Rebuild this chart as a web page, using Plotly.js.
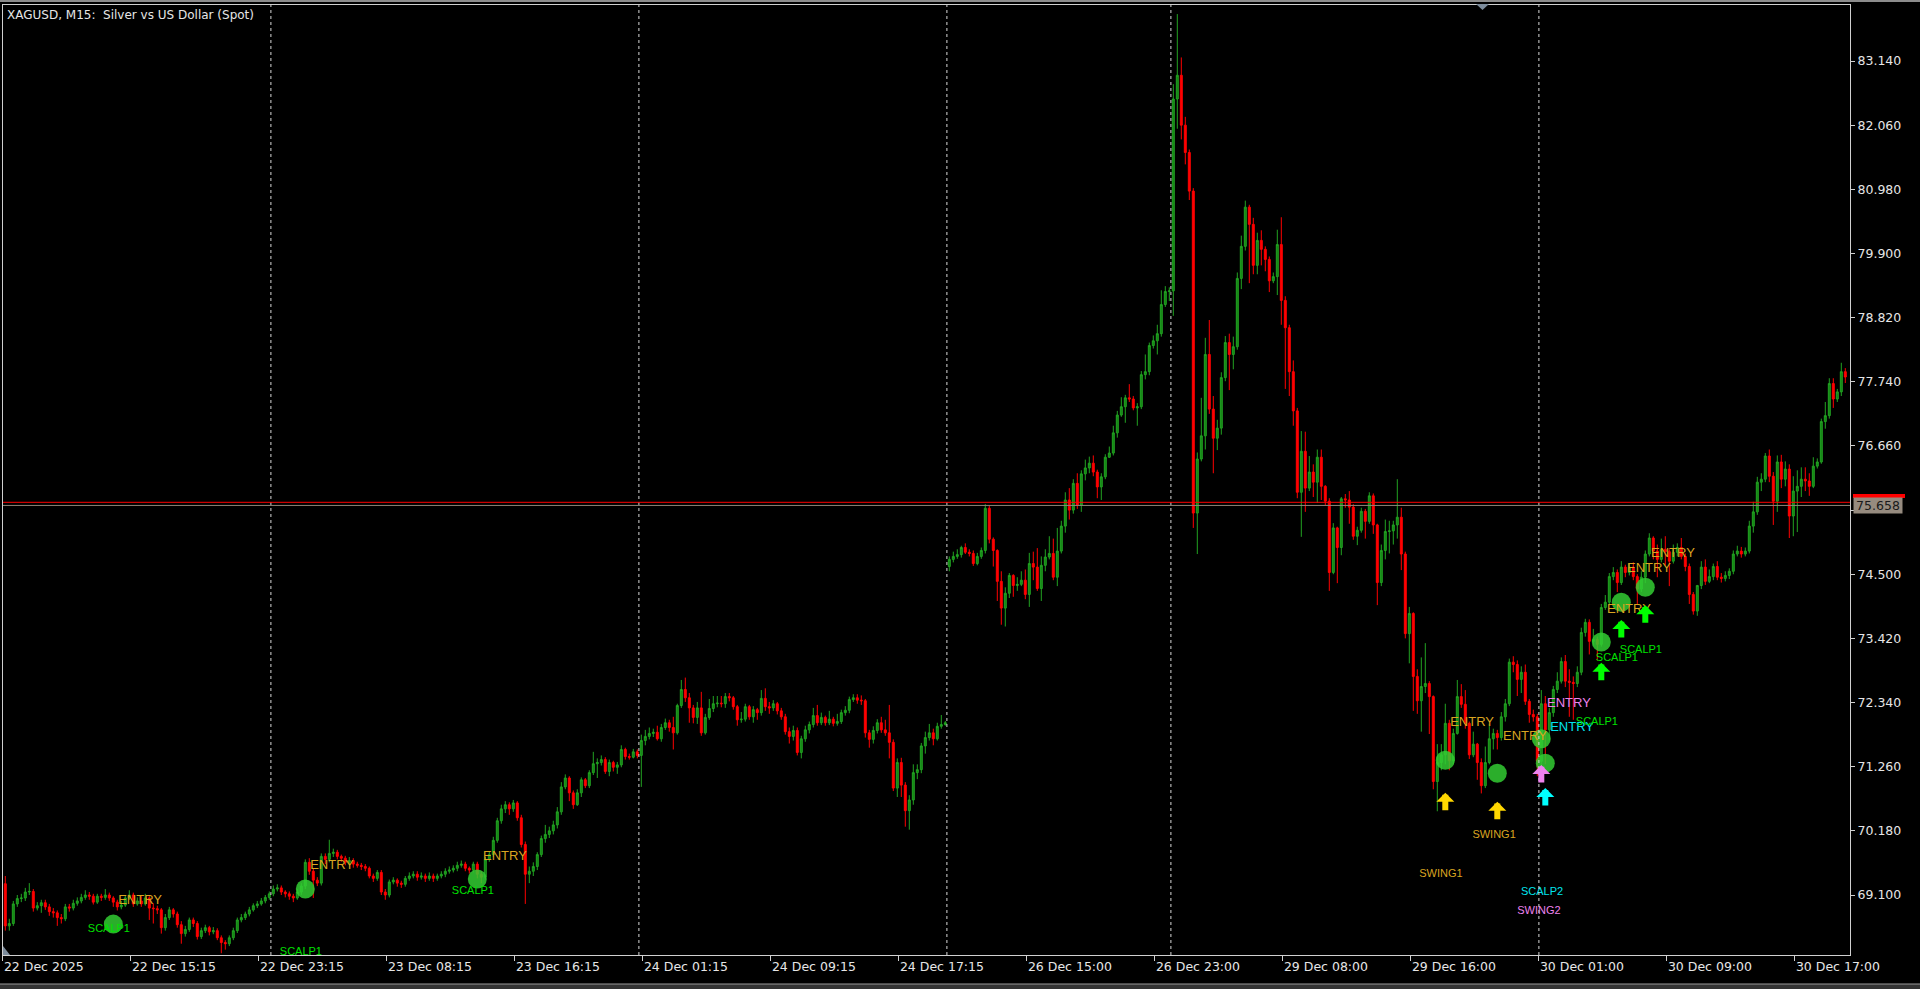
<!DOCTYPE html>
<html><head><meta charset="utf-8">
<script src="https://cdn.plot.ly/plotly-3.0.1.min.js"></script>
<style>html,body{margin:0;padding:0;background:#000;overflow:hidden}#chart{width:1920px;height:989px}</style>
</head><body><div id="chart"></div>
<script>
// ---------- DATA (XAGUSD M15) ----------
const barOpen = [
69.29,68.58,68.62,68.95,69.04,69.05,69.15,69.16,68.88,68.92,
68.97,68.90,68.82,68.80,68.72,68.70,68.90,68.88,68.96,69.00,
69.06,69.10,69.08,68.98,69.08,69.06,69.10,69.05,68.98,68.90,
68.93,69.05,69.10,68.95,69.00,68.95,69.05,68.88,68.87,68.85,
68.55,68.72,68.85,68.78,68.60,68.45,68.52,68.68,68.62,68.40,
68.50,68.55,68.48,68.50,68.38,68.30,68.28,68.38,68.50,68.68,
68.72,68.78,68.85,68.92,68.95,69.00,69.06,69.12,69.20,69.22,
69.15,69.12,69.08,69.05,69.15,69.25,69.65,69.50,69.35,69.30,
69.75,69.70,69.80,69.82,69.75,69.72,69.65,69.68,69.62,69.60,
69.58,69.55,69.42,69.38,69.48,69.15,69.10,69.32,69.35,69.30,
69.28,69.38,69.42,69.45,69.40,69.42,69.38,69.42,69.38,69.42,
69.45,69.50,69.52,69.55,69.60,69.62,69.55,69.52,69.62,69.45,
69.40,69.70,69.78,70.02,70.35,70.55,70.62,70.55,70.65,70.40,
69.95,69.45,69.50,69.58,69.78,70.05,70.12,70.18,70.28,70.50,
70.92,71.07,70.82,70.62,70.82,71.04,70.94,71.16,71.31,71.33,
71.38,71.18,71.33,71.25,71.29,71.55,71.43,71.42,71.51,71.45,
71.70,71.77,71.82,71.84,71.73,71.92,72.00,71.92,71.83,72.29,
72.56,72.42,72.25,72.09,72.25,71.83,72.09,72.24,72.32,72.33,
72.32,72.44,72.42,72.27,72.05,72.06,72.27,72.10,72.22,72.17,
72.41,72.27,72.25,72.32,72.20,72.10,71.85,71.77,71.87,71.50,
71.73,71.88,71.97,72.12,72.00,72.09,72.00,72.06,71.99,72.02,
72.17,72.21,72.39,72.42,72.38,72.37,71.83,71.72,71.87,72.00,
71.88,71.83,71.67,70.90,71.33,70.95,70.52,70.70,71.16,71.21,
71.61,71.75,71.83,71.73,71.94,71.97,
74.63,74.75,74.80,74.83,
74.95,74.87,74.85,74.68,74.80,74.90,75.61,75.09,74.90,74.38,
73.93,74.18,74.48,74.31,74.33,74.40,74.16,74.68,74.62,74.26,
74.65,74.79,74.85,74.45,74.89,75.31,75.75,75.58,76.03,75.66,
76.19,76.29,76.37,76.22,75.97,76.14,76.47,76.54,76.88,77.18,
77.32,77.47,77.45,77.30,77.32,77.86,77.91,78.35,78.43,78.55,
79.04,79.26,79.27,82.50,82.90,82.06,81.60,80.95,75.53,76.44,
76.83,78.20,77.28,76.79,76.96,77.81,78.40,78.20,78.33,79.48,
80.02,80.68,80.39,79.70,80.12,79.97,79.80,79.44,79.51,80.05,
79.11,78.65,77.91,77.25,75.88,76.57,75.95,76.22,76.05,76.47,
75.98,75.73,74.53,75.28,74.95,75.77,75.75,75.63,75.14,75.24,
75.56,75.39,75.82,75.33,74.36,74.90,75.22,75.23,75.33,75.46,
74.84,73.50,73.84,72.78,72.37,72.61,72.66,72.44,71.01,71.33,
71.46,71.99,71.36,71.82,72.44,72.31,71.99,71.46,71.64,71.33,
70.94,71.33,71.73,71.82,71.75,72.10,72.32,73.02,72.98,72.73,
72.85,72.36,72.14,72.10,71.35,72.32,71.88,72.17,72.56,72.70,
73.03,72.70,72.68,72.66,72.85,73.52,73.69,73.37,73.40,73.32,
73.94,74.03,74.46,74.53,74.36,74.62,74.53,74.62,74.46,74.25,
74.45,74.84,75.11,74.89,74.75,74.92,74.88,74.72,74.87,74.95,
74.80,74.63,74.16,73.88,74.31,74.62,74.38,74.46,74.63,74.45,
74.43,74.48,74.55,74.84,74.89,74.84,74.89,75.31,75.55,76.05,
76.10,76.49,76.15,75.73,76.39,76.10,76.27,75.48,75.90,75.98,
76.10,76.07,75.98,76.32,76.39,77.07,77.17,77.71,77.45,77.57,77.91
];
const barHigh = [
69.42,68.70,69.00,69.10,69.12,69.22,69.30,69.20,68.98,69.02,
69.02,68.95,68.88,68.84,68.78,68.95,68.95,69.02,69.06,69.12,
69.18,69.15,69.12,69.12,69.12,69.20,69.14,69.08,69.02,69.00,
69.10,69.18,69.14,69.06,69.08,69.12,69.08,68.96,68.92,68.88,
68.78,68.90,68.88,68.82,68.66,68.58,68.72,68.72,68.66,68.55,
68.60,68.58,68.56,68.54,68.42,68.34,68.42,68.55,68.72,68.78,
68.82,68.90,68.96,69.00,69.05,69.10,69.16,69.26,69.28,69.26,
69.18,69.16,69.12,69.20,69.30,69.70,69.72,69.55,69.40,69.80,
69.80,70.03,69.88,69.86,69.78,69.76,69.74,69.72,69.66,69.64,
69.62,69.58,69.46,69.52,69.52,69.20,69.36,69.40,69.38,69.34,
69.42,69.48,69.50,69.50,69.48,69.46,69.48,69.46,69.46,69.50,
69.55,69.58,69.60,69.66,69.68,69.66,69.58,69.66,69.66,69.50,
69.74,69.84,70.08,70.40,70.62,70.68,70.66,70.70,70.68,70.45,
70.00,69.58,69.65,69.82,70.10,70.28,70.25,70.35,70.58,71.00,
71.13,71.10,70.86,70.88,71.08,71.07,71.20,71.51,71.40,71.45,
71.42,71.38,71.36,71.34,71.62,71.58,71.48,71.56,71.55,71.80,
71.88,71.92,71.90,71.95,71.98,72.07,72.05,72.10,72.32,72.72,
72.76,72.50,72.30,72.35,72.52,72.15,72.40,72.45,72.45,72.45,
72.50,72.50,72.45,72.30,72.18,72.32,72.30,72.28,72.25,72.55,
72.58,72.35,72.38,72.35,72.25,72.15,71.92,71.95,71.92,71.78,
71.95,72.02,72.25,72.30,72.17,72.12,72.20,72.10,72.15,72.22,
72.28,72.44,72.48,72.48,72.46,72.40,71.88,71.94,72.06,72.10,
72.05,72.30,71.72,71.40,71.41,71.00,70.78,71.30,71.30,71.66,
71.85,71.98,71.90,72.00,72.13,72.03,
74.80,74.88,74.92,74.98,
75.02,74.92,74.90,74.86,74.95,75.68,75.66,75.12,74.92,74.55,
74.28,74.52,74.50,74.45,74.55,74.58,74.86,74.88,74.94,74.80,
74.92,75.14,75.10,75.28,75.40,75.88,75.95,76.10,76.20,76.25,
76.43,76.48,76.50,76.26,76.20,76.52,76.65,77.00,77.25,77.48,
77.52,77.70,77.50,77.38,77.92,78.20,78.40,78.52,78.70,79.28,
79.35,79.33,82.75,83.93,83.20,82.20,81.65,81.00,76.55,77.47,
78.48,78.78,77.50,77.10,77.90,78.51,78.55,78.50,79.58,80.20,
80.79,80.72,80.50,80.25,80.29,80.02,79.85,79.58,80.30,80.51,
79.18,78.70,78.10,77.30,76.91,76.90,76.49,76.35,76.60,76.60,
76.00,75.78,75.36,75.30,75.80,75.85,75.90,75.68,75.30,75.62,
75.60,75.88,75.86,75.35,75.00,75.42,75.40,75.40,76.10,75.62,
74.88,73.95,73.86,72.90,73.10,73.34,72.70,72.46,71.64,71.64,
72.32,72.05,71.90,72.72,72.65,72.55,72.02,71.85,71.66,71.40,
71.60,71.98,71.90,71.88,72.18,72.40,73.08,73.12,73.05,72.95,
72.98,72.40,72.22,72.15,72.55,72.45,72.25,72.62,72.85,73.10,
73.14,72.90,72.78,72.95,73.60,73.75,73.74,73.58,73.45,74.00,
74.15,74.52,74.62,74.58,74.72,74.66,74.68,74.70,74.50,74.55,
74.90,75.19,75.14,75.00,75.10,75.14,74.92,75.00,75.02,75.11,
74.85,74.68,74.20,74.32,74.72,74.75,74.58,74.68,74.72,74.52,
74.55,74.60,74.90,74.98,74.96,74.95,75.40,75.72,76.14,76.20,
76.54,76.60,76.22,76.50,76.51,76.40,76.35,76.15,76.25,76.30,
76.30,76.20,76.47,76.45,77.12,77.40,77.80,77.80,77.62,78.06,77.97
];
const barLow = [
68.50,68.50,68.58,68.90,68.98,69.00,69.10,68.82,68.84,68.80,
68.85,68.75,68.72,68.58,68.62,68.66,68.82,68.84,68.92,68.96,
69.02,69.02,68.94,68.95,69.00,69.02,69.00,68.90,68.84,68.86,
68.90,69.02,68.90,68.92,68.90,68.92,68.68,68.62,68.78,68.45,
68.50,68.68,68.72,68.55,68.28,68.40,68.48,68.56,68.35,68.36,
68.46,68.42,68.44,68.34,68.12,68.18,68.24,68.34,68.46,68.64,
68.68,68.74,68.82,68.88,68.92,68.96,69.02,69.08,69.16,69.10,
69.06,69.02,68.98,69.02,69.10,69.20,69.44,69.05,69.25,69.26,
69.62,69.65,69.74,69.70,69.66,69.60,69.62,69.56,69.56,69.52,
69.50,69.38,69.32,69.34,69.10,69.02,69.06,69.28,69.24,69.22,
69.24,69.34,69.38,69.34,69.36,69.32,69.34,69.32,69.34,69.38,
69.40,69.46,69.48,69.50,69.56,69.50,69.46,69.48,69.38,69.30,
69.36,69.66,69.74,69.98,70.30,70.48,70.45,70.50,70.35,69.90,
68.95,69.30,69.42,69.52,69.74,69.98,70.06,70.12,70.22,70.45,
70.88,70.68,70.55,70.60,70.75,70.90,70.90,71.12,71.07,71.28,
71.14,71.10,71.18,71.14,71.25,71.38,71.38,71.40,71.40,70.92,
71.62,71.72,71.76,71.70,71.68,71.88,71.85,71.55,71.80,72.25,
72.35,72.00,71.99,71.98,71.78,71.80,72.05,72.18,72.26,72.26,
72.25,72.36,72.22,71.95,72.00,72.02,72.05,72.00,72.05,72.12,
72.20,72.15,72.20,72.14,72.05,71.80,71.65,71.70,71.45,71.40,
71.68,71.82,71.92,71.95,71.96,71.95,71.96,71.94,71.95,71.98,
72.12,72.16,72.35,72.32,72.30,71.75,71.58,71.65,71.82,71.83,
71.78,71.40,70.85,70.75,70.75,70.25,70.20,70.62,71.05,71.15,
71.48,71.70,71.62,71.70,71.90,71.95,
74.55,74.70,74.76,74.78,
74.84,74.80,74.64,74.65,74.76,74.85,75.02,74.63,74.05,73.65,
73.62,74.10,74.12,74.22,74.30,74.08,73.95,74.40,74.22,74.05,
74.55,74.75,74.40,74.30,74.85,75.20,75.42,75.52,75.60,75.55,
76.08,76.20,76.15,75.78,75.75,76.10,76.46,76.50,76.80,77.15,
77.05,77.40,77.26,77.00,77.28,77.78,77.85,78.30,78.20,78.50,
79.00,79.10,78.85,82.00,81.82,81.40,80.80,75.28,74.84,76.40,
76.60,77.20,76.20,76.59,76.85,77.75,77.60,77.95,78.28,79.30,
79.95,79.40,79.55,79.55,79.70,79.60,79.25,79.40,79.20,78.70,
77.62,77.50,77.00,75.78,75.13,75.55,75.90,75.80,75.70,75.75,
75.66,74.22,74.50,74.35,74.82,75.62,75.35,75.08,74.99,75.20,
75.10,75.35,75.18,73.98,74.30,74.75,74.85,75.00,75.10,74.57,
73.42,73.00,72.20,72.15,71.85,72.50,71.81,70.88,70.51,71.20,
71.30,71.20,71.30,71.80,72.25,71.90,71.39,71.42,71.04,70.81,
70.90,71.30,71.55,71.55,71.70,72.02,72.28,72.85,72.45,72.50,
72.30,72.00,72.02,71.10,71.10,71.30,71.70,72.10,72.50,72.66,
72.60,72.10,72.05,72.60,72.80,73.45,73.15,73.30,73.05,73.28,
73.90,73.98,74.40,74.20,74.32,74.45,74.48,74.40,74.00,74.20,
74.35,74.80,74.75,74.45,74.70,74.65,74.30,74.68,74.80,74.75,
74.55,74.00,73.82,73.80,74.25,74.32,74.35,74.40,74.40,74.36,
74.38,74.42,74.50,74.80,74.78,74.80,74.85,75.20,75.50,75.90,
76.05,76.05,75.33,75.55,75.95,75.98,75.11,75.14,75.21,75.80,
75.90,75.82,75.95,76.28,76.36,76.95,77.12,77.30,77.40,77.50,77.72
];
const barClose = [
68.58,68.62,68.95,69.04,69.05,69.15,69.16,68.88,68.92,68.97,
68.90,68.82,68.80,68.72,68.70,68.90,68.88,68.96,69.00,69.06,
69.10,69.08,68.98,69.08,69.06,69.10,69.05,68.98,68.90,68.93,
69.05,69.10,68.95,69.00,68.95,69.05,68.88,68.87,68.85,68.55,
68.72,68.85,68.78,68.60,68.45,68.52,68.68,68.62,68.40,68.50,
68.55,68.48,68.50,68.38,68.30,68.28,68.38,68.50,68.68,68.72,
68.78,68.85,68.92,68.95,69.00,69.06,69.12,69.20,69.22,69.15,
69.12,69.08,69.05,69.15,69.25,69.65,69.50,69.35,69.30,69.75,
69.70,69.80,69.82,69.75,69.72,69.65,69.68,69.62,69.60,69.58,
69.55,69.42,69.38,69.48,69.15,69.10,69.32,69.35,69.30,69.28,
69.38,69.42,69.45,69.40,69.42,69.38,69.42,69.38,69.42,69.45,
69.50,69.52,69.55,69.60,69.62,69.55,69.52,69.62,69.45,69.40,
69.70,69.78,70.02,70.35,70.55,70.62,70.55,70.65,70.40,69.95,
69.45,69.50,69.58,69.78,70.05,70.12,70.18,70.28,70.50,70.92,
71.07,70.82,70.62,70.82,71.04,70.94,71.16,71.31,71.33,71.38,
71.18,71.33,71.25,71.29,71.55,71.43,71.42,71.51,71.45,71.70,
71.77,71.82,71.84,71.73,71.92,72.00,71.92,71.83,72.29,72.56,
72.42,72.25,72.09,72.25,71.83,72.09,72.24,72.32,72.33,72.32,
72.44,72.42,72.27,72.05,72.06,72.27,72.10,72.22,72.17,72.41,
72.27,72.25,72.32,72.20,72.10,71.85,71.77,71.87,71.50,71.73,
71.88,71.97,72.12,72.00,72.09,72.00,72.06,71.99,72.02,72.17,
72.21,72.39,72.42,72.38,72.37,71.83,71.72,71.87,72.00,71.88,
71.83,71.67,70.90,71.33,70.95,70.52,70.70,71.16,71.21,71.61,
71.75,71.83,71.73,71.94,71.97,72.00,
74.75,74.80,74.83,74.95,
74.87,74.85,74.68,74.80,74.90,75.61,75.09,74.90,74.38,73.93,
74.18,74.48,74.31,74.33,74.40,74.16,74.68,74.62,74.26,74.65,
74.79,74.85,74.45,74.89,75.31,75.75,75.58,76.03,75.66,76.19,
76.29,76.37,76.22,75.97,76.14,76.47,76.54,76.88,77.18,77.32,
77.47,77.45,77.30,77.32,77.86,77.91,78.35,78.43,78.55,79.04,
79.26,79.27,82.50,82.90,82.06,81.60,80.95,75.53,76.44,76.83,
78.20,77.28,76.79,76.96,77.81,78.40,78.20,78.33,79.48,80.02,
80.68,80.39,79.70,80.12,79.97,79.80,79.44,79.51,80.05,79.11,
78.65,77.91,77.25,75.88,76.57,75.95,76.22,76.05,76.47,75.98,
75.73,74.53,75.28,74.95,75.77,75.75,75.63,75.14,75.24,75.56,
75.39,75.82,75.33,74.36,74.90,75.22,75.23,75.33,75.46,74.84,
73.50,73.84,72.78,72.37,72.61,72.66,72.44,71.01,71.33,71.46,
71.99,71.36,71.82,72.44,72.31,71.99,71.46,71.64,71.33,70.94,
71.33,71.73,71.82,71.75,72.10,72.32,73.02,72.98,72.73,72.85,
72.36,72.14,72.10,71.35,72.32,71.88,72.17,72.56,72.70,73.03,
72.70,72.68,72.66,72.85,73.52,73.69,73.37,73.40,73.32,73.94,
74.03,74.46,74.53,74.36,74.62,74.53,74.62,74.46,74.25,74.45,
74.84,75.11,74.89,74.75,74.92,74.88,74.72,74.87,74.95,74.80,
74.63,74.16,73.88,74.31,74.62,74.38,74.46,74.63,74.45,74.43,
74.48,74.55,74.84,74.89,74.84,74.89,75.31,75.55,76.05,76.10,
76.49,76.15,75.73,76.39,76.10,76.27,75.48,75.90,75.98,76.10,
76.07,75.98,76.32,76.39,77.07,77.17,77.71,77.45,77.57,77.91,77.82
];

// time axis labels (bar index of each label)
const tickBars = [0,32,64,96,128,160,192,224,256,288,320,352,384,416,448];
const tickLabels = ['22 Dec 2025','22 Dec 15:15','22 Dec 23:15','23 Dec 08:15','23 Dec 16:15',
  '24 Dec 01:15','24 Dec 09:15','24 Dec 17:15','26 Dec 15:00','26 Dec 23:00',
  '29 Dec 08:00','29 Dec 16:00','30 Dec 01:00','30 Dec 09:00','30 Dec 17:00'];
// first bar of each new trading day (period separators)
const dayStartBars = [67,159,236,292,384];
// price scale
const priceTicks = [69.10,70.18,71.26,72.34,73.42,74.50,75.58,76.66,77.74,78.82,79.90,80.98,82.06,83.14];
const bidPrice = 75.658;
const askPrice = 75.711;

// signal dots
const dotBars   = [27,75,118,360,373,384,385,399,404,410];
const dotPrices = [68.61,69.20,69.37,71.37,71.15,71.73,71.32,73.36,74.03,74.28];
// signal arrows (tip)
const arrowBars   = [360,373,384,385,399,404,410];
const arrowPrices = [70.82,70.67,71.29,70.90,73.01,73.73,73.98];
const arrowKinds  = ['swing1','swing1','swing2','scalp2','scalp1','scalp1','scalp1'];
// signal texts
const labelTexts  = ['ENTRY','SCALP1','ENTRY','SCALP1','ENTRY','SCALP1',
  'ENTRY','SWING1','ENTRY','SWING1','ENTRY','ENTRY','SCALP2','SWING2',
  'SCALP1','SCALP1','SCALP1','ENTRY','ENTRY','ENTRY'];
const labelKinds  = ['scalp1','scalp1','scalp1','scalp1','scalp1','scalp1',
  'swing1','swing1','swing1','swing1','swing2','scalp2','scalp2','swing2',
  'scalp1','scalp1','scalp1','scalp1','scalp1','scalp1'];
const labelBars   = [33.7,25.9,81.7,73.9,124.9,116.9,366.7,358.9,379.9,372.2,390.9,391.7,384.2,383.4,397.9,402.9,408.9,405.9,410.9,416.9];
const labelPrices = [69.00,68.53,69.60,68.14,69.74,69.17,72.00,69.45,71.76,70.11,72.32,71.91,69.15,68.83,72.00,73.09,73.22,73.91,74.60,74.84];

// ---------- STYLE ----------
const PLOT_L = 3, PLOT_R = 1850, PLOT_T = 5, PLOT_B = 955;
const BAR_PX = 4;
const xMin = -0.575, xMax = xMin + (PLOT_R - PLOT_L) / BAR_PX;
const yMin = 68.090, yMax = 84.083;
const SEP = 0.6; // separators/ticks sit between bars
const entryColor = {scalp1:'#DAA520', swing1:'#DAA520', swing2:'#EE82EE', scalp2:'#00E5EE'};
const nameColor  = {scalp1:'#00E000', swing1:'#DAA520', swing2:'#EE82EE', scalp2:'#00E5EE'};
const arrowColor = {scalp1:'#00FF00', swing1:'#FFD700', swing2:'#EE82EE', scalp2:'#00FFFF'};
const fontMT = 'DejaVu Sans, sans-serif';
const fontLbl = 'Liberation Sans, Arial, sans-serif';

const barIndex = barClose.map((_, i) => i);

const candles = {
  type: 'candlestick', x: barIndex,
  open: barOpen, high: barHigh, low: barLow, close: barClose,
  increasing: {line: {color: '#22a322', width: 1}, fillcolor: '#148214'},
  decreasing: {line: {color: '#ff0000', width: 1}, fillcolor: '#ff0000'},
  whiskerwidth: 0, hoverinfo: 'skip', showlegend: false
};
const dots = {
  type: 'scatter', mode: 'markers', x: dotBars, y: dotPrices,
  marker: {size: 19, color: 'rgba(50,205,50,0.85)', line: {width: 0}},
  hoverinfo: 'skip', showlegend: false
};
const labels = {
  type: 'scatter', mode: 'text', x: labelBars, y: labelPrices, text: labelTexts,
  textposition: 'middle center',
  textfont: {
    family: fontLbl,
    size: labelTexts.map(t => t === 'ENTRY' ? 13 : 11),
    color: labelTexts.map((t, i) => t === 'ENTRY' ? entryColor[labelKinds[i]] : nameColor[labelKinds[i]])
  },
  hoverinfo: 'skip', showlegend: false
};

const shapes = [];
dayStartBars.forEach(b => shapes.push({
  type: 'line', xref: 'x', yref: 'paper', x0: b - SEP, x1: b - SEP, y0: 0, y1: 1,
  line: {color: '#d8d8d8', width: 1, dash: '3px,3px'}
}));
shapes.push({type: 'line', xref: 'paper', yref: 'y', x0: 0, x1: 1, y0: askPrice, y1: askPrice,
  line: {color: '#ff0000', width: 1}});
shapes.push({type: 'line', xref: 'paper', yref: 'y', x0: 0, x1: 1, y0: bidPrice, y1: bidPrice,
  line: {color: '#8f8478', width: 1}});
const pw = PLOT_R - PLOT_L, ph = PLOT_B - PLOT_T;
const px = v => (v - PLOT_L) / pw, py = v => (PLOT_B - v) / ph;
// red ask marker strip above the price label
shapes.push({type: 'rect', xref: 'paper', yref: 'paper', x0: px(1853), x1: px(1905), y0: py(498), y1: py(494),
  fillcolor: '#ff0000', line: {width: 0}});
// window chrome
shapes.push({type: 'rect', xref: 'paper', yref: 'paper', x0: px(0), x1: px(1920), y0: py(2), y1: py(0),
  fillcolor: '#8c8c8c', line: {width: 0}});
shapes.push({type: 'rect', xref: 'paper', yref: 'paper', x0: px(0), x1: px(1920), y0: py(989), y1: py(984),
  fillcolor: '#333333', line: {width: 0}});
shapes.push({type: 'line', xref: 'paper', yref: 'paper', x0: px(0), x1: px(1920), y0: py(984), y1: py(984),
  line: {color: '#9a9a9a', width: 1}});
shapes.push({type: 'path', xref: 'paper', yref: 'paper',
  path: `M${px(1476)},${py(4)} L${px(1489)},${py(4)} L${px(1482.5)},${py(10)} Z`,
  fillcolor: '#7d8c9c', line: {width: 0}});
shapes.push({type: 'path', xref: 'paper', yref: 'paper',
  path: `M${px(3)},${py(955)} L${px(10)},${py(955)} L${px(3)},${py(946)} Z`,
  fillcolor: '#7d8c9c', line: {width: 0}});

const annotations = arrowBars.map((b, i) => ({
  x: b, y: arrowPrices[i], xref: 'x', yref: 'y', text: '', showarrow: true,
  arrowhead: 1, arrowsize: 0.5, arrowwidth: 6, arrowcolor: arrowColor[arrowKinds[i]],
  ax: 0, ay: 19, standoff: 0
}));
annotations.push({
  xref: 'paper', yref: 'y', x: px(1853), y: bidPrice, xanchor: 'left', yanchor: 'middle',
  text: bidPrice.toFixed(3), showarrow: false, bgcolor: '#968b7f', width: 48, height: 15, borderpad: 0,
  font: {family: fontMT, size: 12.5, color: '#1a1a1a'}
});

const layout = {
  width: 1920, height: 989,
  paper_bgcolor: '#000000', plot_bgcolor: '#000000',
  margin: {l: PLOT_L, r: 1920 - PLOT_R, t: PLOT_T, b: 989 - PLOT_B, pad: 0},
  showlegend: false,
  title: {text: 'XAGUSD, M15:\u00a0 Silver vs US Dollar (Spot)', xref: 'container', yref: 'container',
    x: 7 / 1920, xanchor: 'left', y: 1 - 15 / 989, yanchor: 'middle',
    font: {family: fontMT, size: 12, color: '#e6e6e6'}},
  xaxis: {
    range: [xMin, xMax], tickmode: 'array', tickvals: tickBars.map(b => b - SEP), ticktext: tickLabels,
    ticks: 'outside', ticklen: 5, tickcolor: '#d0d0d0', tickwidth: 1,
    ticklabelposition: 'outside right',
    tickfont: {family: fontMT, size: 12.5, color: '#e6e6e6'},
    showgrid: false, zeroline: false, showline: true, linecolor: '#d0d0d0', linewidth: 1, mirror: true,
    rangeslider: {visible: false}, fixedrange: true
  },
  yaxis: {
    side: 'right', range: [yMin, yMax], tickmode: 'array', tickvals: priceTicks,
    // the tick hidden behind the current-price label shows no text
    ticktext: priceTicks.map(v => Math.abs(v - bidPrice) < 0.2 ? '' : v.toFixed(3)),
    ticks: 'outside', ticklen: 4, tickcolor: '#d0d0d0', tickwidth: 1,
    tickfont: {family: fontMT, size: 12.5, color: '#e6e6e6'},
    showgrid: false, zeroline: false, showline: true, linecolor: '#d0d0d0', linewidth: 1, mirror: true,
    fixedrange: true
  },
  shapes: shapes,
  annotations: annotations
};

Plotly.newPlot('chart', [candles, dots, labels], layout, {staticPlot: true, displayModeBar: false});
</script>
</body></html>
